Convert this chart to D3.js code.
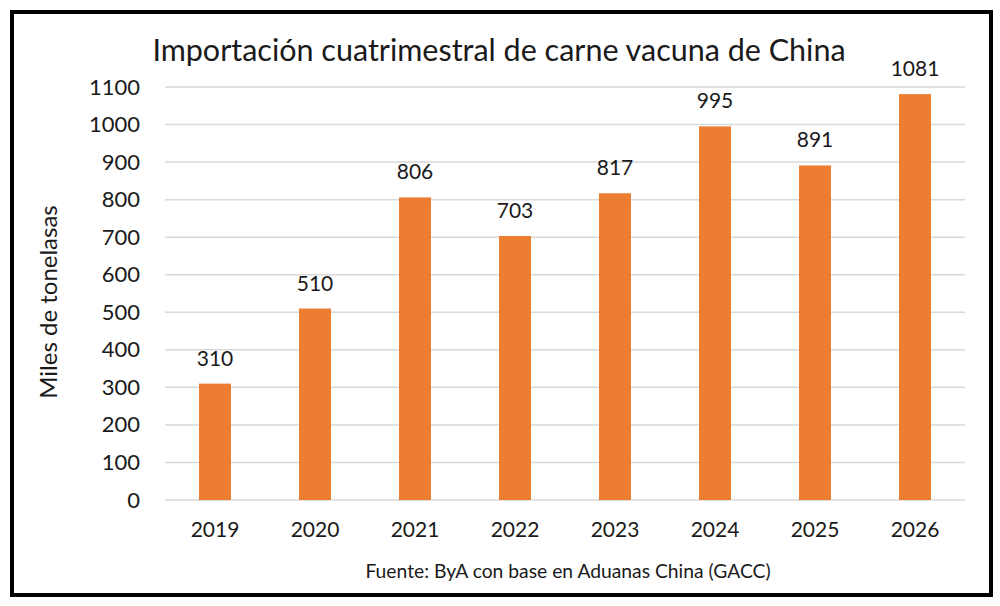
<!DOCTYPE html>
<html lang="es">
<head>
    <meta charset="UTF-8">
    <title>importacion-carne-china</title>
    <script src="https://cdn.jsdelivr.net/npm/d3@7"></script>
    <style>
        body { margin: 0; background: #fff; }
        text { font-family: Lato, "Open Sans", sans-serif; fill: #1a1a1a; }
    </style>
</head>
<body>
    <svg class="chart"></svg>
</body>
<script>
    // datos
    var years = ['2019', '2020', '2021', '2022', '2023', '2024', '2025', '2026'];
    var values = [310, 510, 806, 703, 817, 995, 891, 1081];
    var yTicks = [0, 100, 200, 300, 400, 500, 600, 700, 800, 900, 1000, 1100];

    var width = 1000, height = 606;
    var plot = { left: 165, right: 965, top: 87, bottom: 500 };

    var svg = d3.select('.chart')
        .attr('width', width)
        .attr('height', height);

    // marco negro
    svg.append('rect')
        .attr('x', 12).attr('y', 12)
        .attr('width', 979).attr('height', 583)
        .attr('fill', '#fff')
        .attr('stroke', '#000')
        .attr('stroke-width', 4);

    var x = d3.scaleBand()
        .domain(years)
        .range([plot.left, plot.right])
        .paddingInner(0.68)
        .paddingOuter(0.34);

    var y = d3.scaleLinear()
        .domain([0, 1100])
        .range([plot.bottom, plot.top]);

    // lineas de cuadricula
    svg.append('g')
        .selectAll('line')
        .data(yTicks)
        .enter()
        .append('line')
        .attr('x1', plot.left)
        .attr('x2', plot.right)
        .attr('y1', function (d) { return y(d); })
        .attr('y2', function (d) { return y(d); })
        .attr('stroke', '#d9d9d9')
        .attr('stroke-width', 1.5);

    // eje y
    var yAxis = svg.append('g')
        .attr('transform', 'translate(140,0)')
        .call(d3.axisLeft(y).tickValues(yTicks).tickFormat(d3.format('d')).tickSize(0).tickPadding(0));
    yAxis.select('.domain').remove();
    yAxis.selectAll('text')
        .attr('font-size', 22)
        .style('font-family', 'Lato, sans-serif')
        .attr('fill', '#1a1a1a');

    // eje x
    var xAxis = svg.append('g')
        .attr('transform', 'translate(0,' + plot.bottom + ')')
        .call(d3.axisBottom(x).tickSize(0).tickPadding(22));
    xAxis.select('.domain').remove();
    xAxis.selectAll('text')
        .attr('font-size', 21)
        .style('font-family', 'Lato, sans-serif')
        .attr('fill', '#1a1a1a');

    // barras
    svg.append('g')
        .selectAll('rect')
        .data(values)
        .enter()
        .append('rect')
        .attr('x', function (d, i) { return x(years[i]); })
        .attr('y', function (d) { return y(d); })
        .attr('width', x.bandwidth())
        .attr('height', function (d) { return y(0) - y(d); })
        .attr('fill', '#ed7d31');

    // etiquetas de datos
    svg.append('g')
        .selectAll('text')
        .data(values)
        .enter()
        .append('text')
        .attr('x', function (d, i) { return x(years[i]) + x.bandwidth() / 2; })
        .attr('y', function (d) { return y(d) - 18; })
        .attr('text-anchor', 'middle')
        .attr('font-size', 21)
        .text(function (d) { return d; });

    // titulo
    svg.append('text')
        .attr('x', 499)
        .attr('y', 61)
        .attr('text-anchor', 'middle')
        .attr('font-size', 30.5)
        .text('Importación cuatrimestral de carne vacuna de China');

    // titulo eje y
    svg.append('text')
        .attr('transform', 'translate(57,302) rotate(-90)')
        .attr('text-anchor', 'middle')
        .attr('font-size', 24)
        .text('Miles de tonelasas');

    // fuente
    svg.append('text')
        .attr('x', 568)
        .attr('y', 578)
        .attr('text-anchor', 'middle')
        .attr('font-size', 19.3)
        .text('Fuente: ByA con base en Aduanas China (GACC)');
</script>
</html>
